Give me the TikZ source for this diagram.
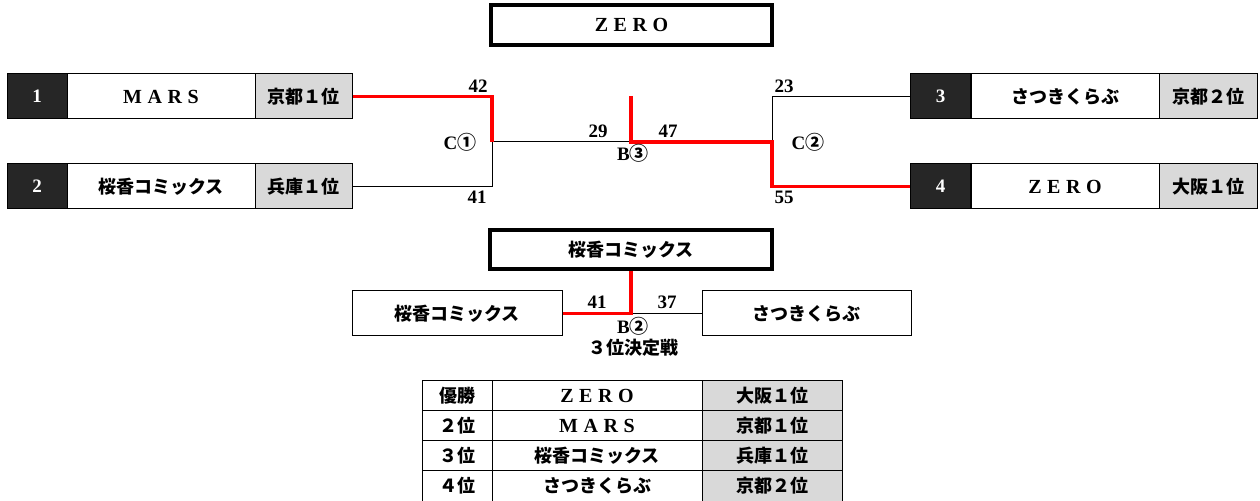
\documentclass[tikz,border=0pt]{standalone}
\usepackage{fontspec}
\setmainfont{Liberation Serif}
\newfontfamily\jp{Noto Sans CJK JP}
\usepackage{tikz}
\usetikzlibrary{positioning,shapes}
\newcommand{\wide}[1]{{\rmfamily\bfseries\fontsize{20bp}{20bp}\selectfont\addfontfeatures{LetterSpace=28}#1}}
\newcommand{\lbl}{\bfseries\fontsize{19bp}{19bp}\selectfont}
\newcommand{\jptxt}{\jp\bfseries\fontsize{18bp}{18bp}\selectfont}

\begin{document}
\begin{tikzpicture}[
  numcell/.style={draw,line width=1bp,fill=black!85,text=white,minimum width=60bp,minimum height=45bp,inner sep=0pt,font=\lbl},
  namecell/.style={draw,line width=1bp,fill=white,minimum width=188bp,minimum height=45bp,inner sep=0pt,font=\jptxt},
  prefcell/.style={draw,line width=1bp,fill=black!15,minimum width=97bp,minimum height=45bp,inner sep=0pt,font=\jptxt},
  finalbox/.style={draw,line width=4bp,fill=white,minimum width=281bp,minimum height=40bp,inner sep=0pt,font=\jptxt},
  thirdbox/.style={draw,line width=1bp,fill=white,minimum width=209bp,minimum height=45bp,inner sep=0pt,font=\jptxt},
  tabcell/.style={draw,line width=1bp,minimum height=30bp,inner sep=0pt,font=\jptxt},
  win/.style={red,line width=3.5bp},
  lose/.style={black,line width=1bp},
  score/.style={inner sep=0pt,font=\lbl}]
\useasboundingbox (0,0) rectangle (1260bp,501bp);

% champion
\node (final) at (631.5bp,476bp) [finalbox] {\wide{ZERO}};

% left block
\node (num1) at (37bp,404.5bp) [numcell] {1};
\node (name1) at (161bp,404.5bp) [namecell] {\wide{MARS}};
\node (pref1) at (303.5bp,404.5bp) [prefcell] {京都１位};
\node (num2) at (37bp,314.5bp) [numcell] {2};
\node (name2) at (161bp,314.5bp) [namecell] {桜香コミックス};
\node (pref2) at (303.5bp,314.5bp) [prefcell] {兵庫１位};

% right block
\node (num3) at (940.5bp,404.5bp) [numcell] {3};
\node (name3) at (1065bp,404.5bp) [namecell] {さつきくらぶ};
\node (pref3) at (1208bp,404.5bp) [prefcell,minimum width=98bp] {京都２位};
\node (num4) at (940.5bp,314.5bp) [numcell] {4};
\node (name4) at (1065bp,314.5bp) [namecell] {\wide{ZERO}};
\node (pref4) at (1208bp,314.5bp) [prefcell,minimum width=98bp] {大阪１位};

\coordinate (c1) at (492bp,359bp);
\coordinate (b3) at (631bp,359bp);
\coordinate (b3top) at (631bp,405bp);
\coordinate (c2) at (772bp,359bp);

\draw [lose] (pref2.east) -| (c1);
\draw [lose] (c1) -- (b3);
\draw [lose] (c2) |- (num3.west);
\draw [win] (pref1.east) -| (c1);
\draw [win] (b3top) -- (b3) -- (c2) |- (num4.west);

\node at (478bp,415bp) [score] {42};
\node at (477bp,304bp) [score] {41};
\node at (460bp,359bp) [score] {C{\jp ①}};
\node at (598bp,370bp) [score] {29};
\node at (668bp,370bp) [score] {47};
\node at (633bp,348bp) [score] {B{\jp ③}};
\node at (784bp,415bp) [score] {23};
\node at (808bp,359bp) [score] {C{\jp ②}};
\node at (784bp,304bp) [score] {55};

% third place
\node (third) at (631bp,251.5bp) [finalbox,minimum width=282bp,minimum height=39bp] {桜香コミックス};
\node (left3) at (457bp,187.5bp) [thirdbox,minimum width=210bp] {桜香コミックス};
\node (right3) at (806.5bp,187.5bp) [thirdbox] {さつきくらぶ};
\draw [lose] (left3.east -| third.south) -- (right3.west);
\draw [win] (left3.east) -| (third.south);
\node at (597bp,199bp) [score] {41};
\node at (667bp,199bp) [score] {37};
\node at (633bp,175bp) [score] {B{\jp ②}};
\node at (633bp,153bp) [score,font=\jptxt] {３位決定戦};

% result table
\foreach \y/\a/\b/\c in {105/優勝/{\wide{ZERO}}/大阪１位,75/２位/{\wide{MARS}}/京都１位,45/３位/桜香コミックス/兵庫１位,15/４位/さつきくらぶ/京都２位} {
  \node (ta\y) at (457bp,\y bp) [tabcell,minimum width=70bp] {\a};
  \node (tb\y) at (597bp,\y bp) [tabcell,minimum width=210bp] {\b};
  \node (tc\y) at (772bp,\y bp) [tabcell,minimum width=140bp,fill=black!15] {\c};
}
\end{tikzpicture}
\end{document}
